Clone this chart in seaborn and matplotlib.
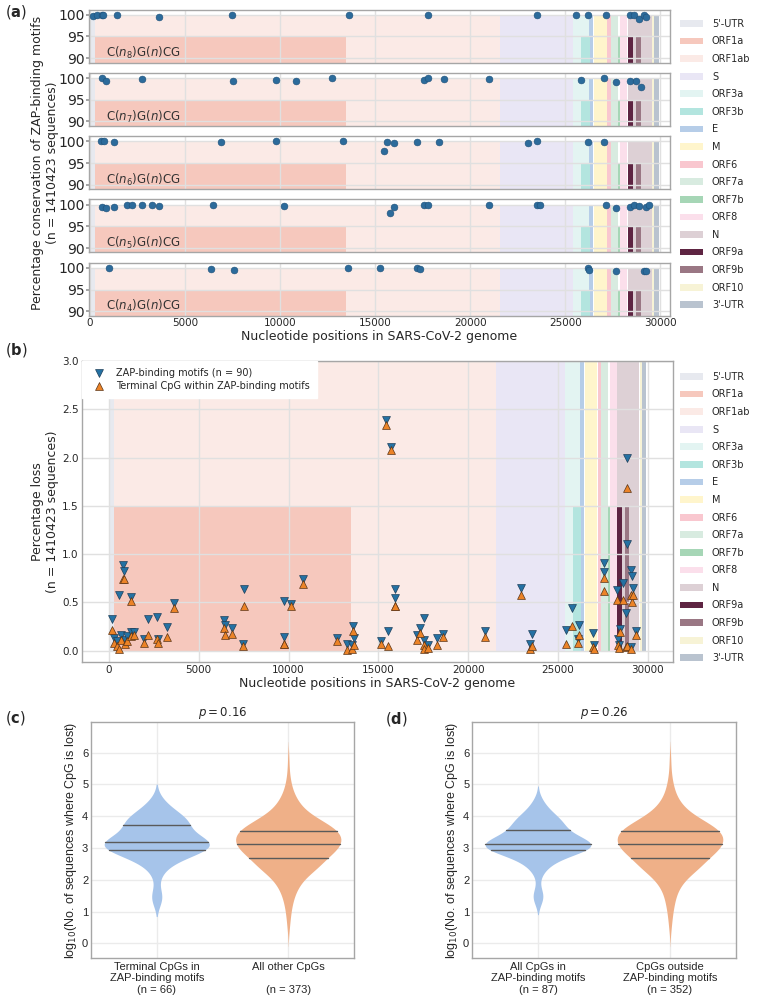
import numpy as np
import pandas as pd
import matplotlib
matplotlib.use("Agg")
import matplotlib.pyplot as plt
from matplotlib.patches import Patch
from matplotlib.collections import LineCollection
import seaborn as sns

# --- genome annotation (SARS-CoV-2 reference) ---
region_names = ["5'-UTR", "ORF1a", "ORF1ab", "S", "ORF3a", "ORF3b", "E", "M", "ORF6",
                "ORF7a", "ORF7b", "ORF8", "N", "ORF9a", "ORF9b", "ORF10", "3'-UTR"]
region_start = [1, 266, 266, 21563, 25393, 25814, 26245, 26523, 27202,
                27394, 27756, 27894, 28274, 28284, 28734, 29558, 29675]
region_end = [265, 13483, 21555, 25384, 26220, 26281, 26472, 27191, 27387,
              27759, 27887, 28259, 29533, 28577, 28955, 29674, 29903]
region_half = [False, True, False, False, False, True, False, False, False,
               False, True, False, False, True, True, False, False]
region_colors = ["#e7e9ef", "#f6c8bd", "#fbeae6", "#e9e6f5", "#e3f4f2", "#b3e5df",
                 "#b6cde8", "#fff5cc", "#f9c7cf", "#d8ebe0", "#a6d6b6", "#fbdfeb",
                 "#ddd0d5", "#5e2442", "#9a7784", "#f7f3d6", "#b9c3cf"]

# --- (a) conservation of ZAP-binding motifs ---
motif_labels = [r"C($n_8$)G($n$)CG", r"C($n_7$)G($n$)CG", r"C($n_6$)G($n$)CG",
                r"C($n_5$)G($n$)CG", r"C($n_4$)G($n$)CG"]
n8_pos = [175, 350, 615, 700, 1440, 3650, 7490, 13630, 17750, 23490, 25580, 26175,
          27160, 28420, 28600, 28880, 29120, 29230]
n8_cons = [99.8, 99.9, 100, 100, 99.9, 99.5, 100, 99.9, 100, 100, 99.9, 99.9,
           100, 99.9, 99.9, 98.9, 99.9, 99.4]
n7_pos = [615, 840, 2750, 7545, 9770, 10860, 12750, 17580, 17750, 18630, 20965,
          25825, 27035, 27650, 28420, 28700, 28965]
n7_cons = [100, 99.2, 99.7, 99.4, 99.5, 99.3, 99.9, 99.6, 99.9, 99.8, 99.8,
           99.5, 100, 99.1, 99.4, 99.4, 98.0]
n6_pos = [560, 735, 1280, 6880, 9770, 13280, 15470, 15615, 16000, 17210, 18330,
          23030, 23490, 26175, 27035]
n6_cons = [100, 100, 99.9, 99.9, 100, 100, 97.7, 99.9, 99.5, 99.9, 99.9,
           99.5, 100, 99.9, 99.9]
n5_pos = [630, 840, 1280, 1965, 2230, 2735, 3265, 3650, 6475, 10190, 15755, 16000,
          17580, 17750, 20965, 23490, 23650, 27160, 27650, 28420, 28600, 28880,
          29260, 29385]
n5_cons = [99.5, 99.2, 99.5, 100, 99.8, 100, 99.8, 99.6, 99.8, 99.6, 98.0, 99.5,
           100, 100, 99.9, 100, 99.9, 100, 99.3, 99.4, 100, 99.7, 99.4, 99.9]
n4_pos = [985, 6385, 7560, 13560, 15250, 17195, 17370, 26175, 26260, 27650, 29120, 29230]
n4_cons = [100, 99.8, 99.5, 100, 100, 99.9, 99.8, 99.9, 99.6, 99.2, 99.2, 99.2]

# --- (b) percentage loss ---
loss_pos = [185, 310, 450, 590, 680, 810, 830, 920, 1000, 1240, 1255, 1420, 1940,
            2200, 2700, 2740, 3235, 3620, 6400, 6440, 6840, 7470, 7510, 9730, 9770,
            10130, 10820, 12710, 13260, 13550, 13600, 13620, 15150, 15430, 15555,
            15700, 15940, 15950, 17150, 17295, 17535, 17555, 17740, 18290, 18570,
            20920, 22950, 23440, 23570, 25470, 25750, 26130, 26150, 26950, 27000,
            27540, 27560, 28300, 28340, 28380, 28430, 28610, 28790, 28810, 28860,
            29040, 29060, 29130, 29170, 29320]
motif_loss = [0.33, 0.13, 0.10, 0.58, 0.16, 0.89, 0.83, 0.11, 0.15, 0.19, 0.56, 0.19, 0.12,
              0.33, 0.35, 0.12, 0.25, 0.49, 0.32, 0.27, 0.23, 0.07, 0.635, 0.515, 0.14,
              0.48, 0.74, 0.13, 0.066, 0.06, 0.255, 0.13, 0.10, 2.39, 0.20,
              2.11, 0.635, 0.55, 0.16, 0.24, 0.34, 0.11, 0.06, 0.135, 0.17,
              0.20, 0.645, 0.066, 0.17, 0.21, 0.44, 0.12, 0.27, 0.18, 0.06,
              0.91, 0.82, 0.63, 0.12, 0.06, 0.22, 0.70, 0.39, 1.10, 2.00,
              0.84, 0.04, 0.77, 0.645, 0.20]
cpg_loss = [0.21, 0.08, 0.05, 0.02, 0.11, 0.74, 0.74, 0.07, 0.10, 0.15, 0.51, 0.16, 0.08,
            0.16, 0.12, 0.08, 0.14, 0.44, 0.23, 0.16, 0.17, 0.05, 0.46, 0.07, 0.07,
            0.46, 0.69, 0.10, 0.01, 0.02, 0.20, 0.06, 0.07, 2.34, 0.05,
            2.08, 0.46, 0.46, 0.11, 0.18, 0.06, 0.02, 0.03, 0.06, 0.14,
            0.14, 0.58, 0.02, 0.05, 0.07, 0.255, 0.08, 0.16, 0.04, 0.02,
            0.75, 0.62, 0.53, 0.06, 0.03, 0.19, 0.52, 0.04, 0.05, 1.68,
            0.58, 0.02, 0.50, 0.58, 0.16]

# --- (c), (d) log10 number of sequences where CpG is lost (binned estimates) ---
tail_levels = [1.4, 1.55, 2.1, 2.4, 2.6, 2.8]
c_left_levels = tail_levels + [2.93, 3.05, 3.19, 3.3, 3.45, 3.6, 3.73, 3.85, 4.0, 4.2, 4.45]
c_left_counts = [2, 1, 1, 2, 3, 5, 6, 8, 9, 5, 3, 2, 5, 5, 4, 3, 2]
d_left_levels = tail_levels + [2.93, 3.03, 3.13, 3.25, 3.4, 3.56, 3.7, 3.85, 4.0, 4.2, 4.45]
d_left_counts = [2, 2, 1, 3, 4, 6, 8, 10, 12, 8, 6, 5, 5, 6, 4, 3, 2]
other_levels = [0.4, 0.7, 1.0, 1.3, 1.6, 1.9, 2.2, 2.45, 2.68, 2.9, 3.12, 3.33, 3.53,
                3.75, 4.0, 4.3, 4.6, 4.9, 5.2, 5.5, 5.85]
c_right_counts = [1, 2, 3, 5, 8, 14, 22, 30, 30, 40, 45, 40, 42, 35, 25, 15, 8, 4, 2, 1, 1]
d_right_counts = [1, 2, 3, 5, 7, 13, 21, 28, 28, 38, 42, 38, 40, 33, 24, 14, 7, 4, 2, 1, 1]

sns.set_theme(style="whitegrid", rc={"axes.edgecolor": ".65", "grid.color": ".88",
                                     "axes.linewidth": 1.0})
plt.rcParams["font.family"] = ["DejaVu Sans"]

fig = plt.figure(figsize=(7.61, 9.99), dpi=100)
W, H = 761.0, 999.0


def px_axes(left, top, right, bottom):
    return fig.add_axes([left / W, 1 - bottom / H, (right - left) / W, (bottom - top) / H])


def draw_regions(ax, low, full_top, half_top):
    for s, e, c, half in zip(region_start, region_end, region_colors, region_half):
        top = half_top if half else full_top
        ax.bar(s, top - low, width=e - s, bottom=low, align="edge", color=c,
               linewidth=0, zorder=0.3 if half else 0.2)


legend_handles = [Patch(facecolor=c, edgecolor="none", label=n)
                  for n, c in zip(region_names, region_colors)]
legend_kw = dict(loc="upper left", frameon=False, fontsize=7, handlelength=2.4,
                 handletextpad=0.9, labelspacing=0.78, borderaxespad=0)

# ---------------- panel (a) ----------------
dot_color = "#2c6b9b"
a_data = [(n8_pos, n8_cons), (n7_pos, n7_cons), (n6_pos, n6_cons),
          (n5_pos, n5_cons), (n4_pos, n4_cons)]
a_axes = []
for i, (pos, cons) in enumerate(a_data):
    top = 9.5 + 63.3 * i
    ax = px_axes(89, top, 670, top + 53)
    draw_regions(ax, 89.0, 100, 95)
    sns.scatterplot(x=pos, y=cons, ax=ax, color=dot_color, s=24, edgecolor="#1d4f78",
                    linewidth=0.4, zorder=3)
    ax.set_xlim(-50, 30500)
    ax.set_ylim(89.0, 101.2)
    ax.set_yticks([90, 95, 100])
    ax.set_xticks(range(0, 30001, 5000))
    ax.tick_params(axis="y", labelsize=10, pad=1, length=2, left=True, color=".6")
    ax.tick_params(axis="x", labelsize=7.5, pad=2, length=0)
    if i < 4:
        ax.set_xticklabels([])
    ax.text(0.03, 0.1, motif_labels[i], transform=ax.transAxes, fontsize=8.5,
            color="#333333", zorder=4)
    a_axes.append(ax)

a_axes[-1].set_xlabel("Nucleotide positions in SARS-CoV-2 genome", fontsize=9, labelpad=1)
fig.text(45 / W, 1 - 162.6 / H, "Percentage conservation of ZAP-binding motifs\n(n = 1410423 sequences)",
         rotation=90, ha="center", va="center", multialignment="center", fontsize=9)
fig.legend(handles=legend_handles, bbox_to_anchor=(676 / W, 1 - 15 / H), **legend_kw)

# ---------------- panel (b) ----------------
axb = px_axes(82, 361, 673, 662)
draw_regions(axb, 0, 3.0, 1.5)
sns.scatterplot(x=loss_pos, y=motif_loss, ax=axb, marker="v", color="#2471a3", s=32,
                edgecolor="#1e3f5a", linewidth=0.5, zorder=3, label="ZAP-binding motifs (n = 90)")
sns.scatterplot(x=loss_pos, y=cpg_loss, ax=axb, marker="^", color="#ec8327", s=32,
                edgecolor="#5a3417", linewidth=0.5, zorder=4,
                label="Terminal CpG within ZAP-binding motifs")
axb.set_xlim(-1495, 31398)
axb.set_ylim(-0.117, 3.0)
axb.set_xticks(range(0, 30001, 5000))
axb.set_yticks(np.arange(0, 3.01, 0.5))
axb.tick_params(labelsize=7.5, pad=2.5, length=0)
axb.set_xlabel("Nucleotide positions in SARS-CoV-2 genome", fontsize=9, labelpad=1)
axb.set_ylabel("Percentage loss\n(n = 1410423 sequences)", fontsize=9, labelpad=2)
leg = axb.legend(loc="upper left", fontsize=7, frameon=True, framealpha=1,
                 borderaxespad=0.3, handletextpad=0.8, labelspacing=0.3)
leg.get_frame().set_edgecolor("white")
leg.get_frame().set_boxstyle("square")
fig.legend(handles=legend_handles, bbox_to_anchor=(676 / W, 1 - 368 / H), **legend_kw)

# ---------------- panels (c) and (d) ----------------
violin_blue = "#a6c4ea"
violin_orange = "#efb088"
violin_font = ["Liberation Sans", "DejaVu Sans"]


def violin_panel(ax, labels, groups, title):
    vals = [np.repeat(lv, ct) for lv, ct in groups]
    df = pd.DataFrame({"group": np.repeat(labels, [len(v) for v in vals]),
                       "value": np.concatenate(vals)})
    sns.violinplot(data=df, x="group", y="value", hue="group",
                   palette=[violin_blue, violin_orange], inner="quart", linewidth=0,
                   saturation=1, legend=False, ax=ax)
    for ln in ax.lines:
        ln.set_color("#5a5a5a")
        ln.set_linestyle("-")
        ln.set_linewidth(1.0)
    for coll in ax.collections:
        if isinstance(coll, LineCollection):
            coll.set_color("#5a5a5a")
            coll.set_linestyle("-")
            coll.set_linewidth(1.0)
    ax.set_xlim(-0.5, 1.5)
    ax.set_ylim(-0.46, 6.96)
    ax.set_yticks(range(0, 7))
    ax.set_xlabel("")
    ax.set_ylabel(r"log$_{10}$(No. of sequences where CpG is lost)", fontsize=9,
                  family=violin_font, labelpad=2)
    ax.set_title(title, fontsize=8.5, pad=4)
    ax.tick_params(axis="y", labelsize=8, pad=2, length=0)
    ax.tick_params(axis="x", labelsize=8, pad=3, length=0)
    for t in ax.get_xticklabels() + ax.get_yticklabels():
        t.set_family(violin_font)
    for t in ax.get_xticklabels():
        t.set_linespacing(1.15)
    ax.grid(True, color=".92")


axc = px_axes(91, 722, 354, 958)
violin_panel(axc, ["Terminal CpGs in\nZAP-binding motifs\n(n = 66)", "All other CpGs\n\n(n = 373)"],
             [(c_left_levels, c_left_counts), (other_levels, c_right_counts)], r"$p = 0.16$")
axd = px_axes(472, 722, 736, 958)
violin_panel(axd, ["All CpGs in\nZAP-binding motifs\n(n = 87)", "CpGs outside\nZAP-binding motifs\n(n = 352)"],
             [(d_left_levels, d_left_counts), (other_levels, d_right_counts)], r"$p = 0.26$")

# panel letters
for x, y, letter in [(5, 12, "a"), (5, 350, "b"), (5, 718, "c"), (385, 719, "d")]:
    fig.text(x / W, 1 - y / H, "(" + r"$\mathbf{" + letter + "}$" + ")", fontsize=10.5,
             va="center", ha="left")

fig.savefig("out.png", dpi=100)
